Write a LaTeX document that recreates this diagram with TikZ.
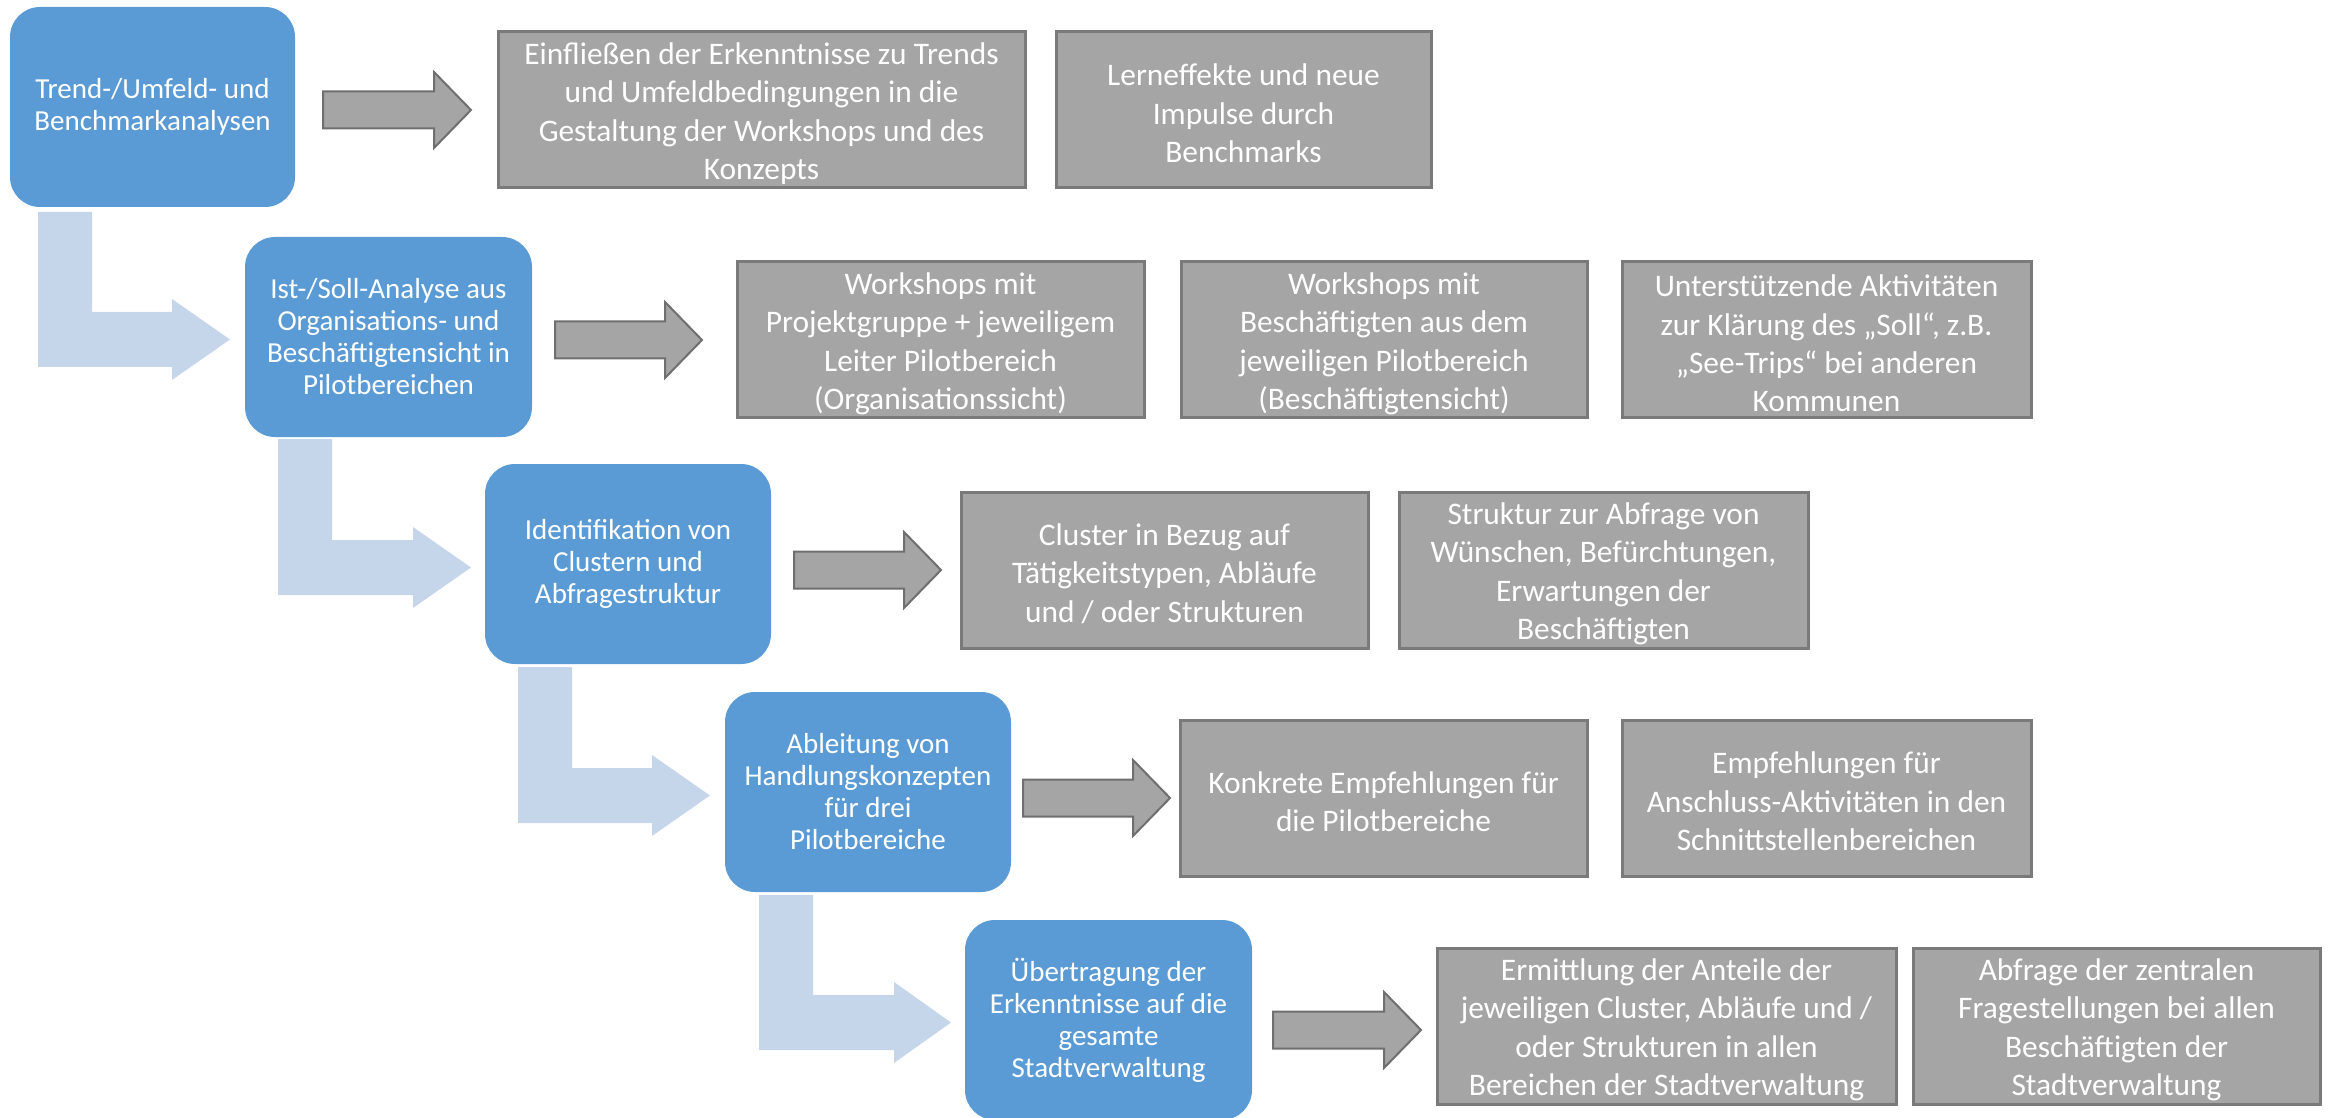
\documentclass[tikz,border=0pt]{standalone}
\usepackage{fontspec}
\setmainfont{Carlito}
\definecolor{bfill}{HTML}{5B9BD5}
\definecolor{lblue}{HTML}{C5D5EA}
\definecolor{gfill}{HTML}{A5A5A5}
\definecolor{gborder}{HTML}{7A7A7A}
\definecolor{aborder}{HTML}{6F6F6F}
\newcommand{\bfnt}{\fontsize{14.5pt}{16pt}\selectfont}
\newcommand{\gfnt}{\fontsize{15.7pt}{19.2pt}\selectfont}
\tikzset{
  bbox/.style={fill=bfill, rounded corners=15pt, text=white, align=center,
    minimum width=143pt, minimum height=100pt, inner sep=0pt, font=\bfnt},
  gbox/.style={draw=gborder, line width=1.5pt, fill=gfill,
    minimum height=78pt, inner sep=0pt},
  gtext/.style={text=white, align=center, inner sep=0pt, font=\gfnt},
  garrow/.style={fill=gfill, draw=aborder, line width=1pt},
  larrow/.style={fill=lblue},
}
% gray result box: #1 name, #2 x, #3 y, #4 width, #5 text
\newcommand{\gnode}[5]{%
  \node[gbox, minimum width=#4] (#1) at (#2,#3) {};
  \node[gtext] (#1t) at ([yshift=-1.8pt]#1.center) {#5};}
% gray block arrow: #1 = x start, #2 = x tip, #3 = y centre
\newcommand{\grarrow}[3]{%
  \draw[garrow] (#1,{#3-18.5}) -- ({#2-37},{#3-18.5}) -- ({#2-37},{#3-38}) -- (#2,#3)
    -- ({#2-37},{#3+38}) -- ({#2-37},{#3+18.5}) -- (#1,{#3+18.5}) -- cycle;}
% light blue bent arrow: #1 x, #2 top, #3 bar top, #4 head start, #5 tip
\newcommand{\bentarrow}[5]{%
  \fill[larrow] (#1,#2) -- ({#1+54},#2) -- ({#1+54},#3) -- (#4,#3) -- (#4,{#3-13})
    -- (#5,{#3+27.5}) -- (#4,{#3+68}) -- (#4,{#3+55}) -- (#1,{#3+55}) -- cycle;}
\begin{document}
\begin{tikzpicture}[x=0.5pt,y=-0.5pt]
\useasboundingbox (0,0) rectangle (2331,1118);

% light blue bent connectors
\bentarrow{38}{212}{312}{172}{230}
\bentarrow{278}{439}{540}{413}{471}
\bentarrow{518}{667}{768}{652}{710}
\bentarrow{759}{895}{995}{894}{951}

% blue step boxes
\node[bbox, minimum width=142.5pt] (B1) at (152.5,107) {Trend-/Umfeld- und\\Benchmarkanalysen};
\node[bbox, minimum width=143.5pt] (B2) at (388.5,337) {Ist-/Soll-Analyse aus\\Organisations- und\\Beschäftigtensicht in\\Pilotbereichen};
\node[bbox] (B3) at (628,564) {Identifikation von\\Clustern und\\Abfragestruktur};
\node[bbox] (B4) at (868,792) {Ableitung von\\Handlungskonzepten\\für drei\\Pilotbereiche};
\node[bbox, minimum width=143.5pt] (B5) at (1108.5,1020) {Übertragung der\\Erkenntnisse auf die\\gesamte\\Stadtverwaltung};

% gray arrows
\grarrow{323}{471}{110}
\grarrow{555}{702}{340}
\grarrow{794}{941}{570}
\grarrow{1023}{1170}{798}
\grarrow{1273}{1421}{1030}

% gray result boxes
\gnode{G1a}{761.5}{110}{263.5pt}{Einfließen der Erkenntnisse zu Trends\\und Umfeldbedingungen in die\\Gestaltung der Workshops und des\\Konzepts}
\gnode{G1b}{1243.5}{110}{187.5pt}{Lerneffekte und neue\\Impulse durch\\Benchmarks}

\gnode{G2a}{940.5}{340}{203.5pt}{Workshops mit\\Projektgruppe + jeweiligem\\Leiter Pilotbereich\\(Organisationssicht)}
\gnode{G2b}{1384}{340}{203pt}{Workshops mit\\Beschäftigten aus dem\\jeweiligen Pilotbereich\\(Beschäftigtensicht)}
\gnode{G2c}{1826.5}{340}{204.5pt}{Unterstützende Aktivitäten\\zur Klärung des „Soll“, z.B.\\„See-Trips“ bei anderen\\Kommunen}

\gnode{G3a}{1164.5}{570}{203.5pt}{Cluster in Bezug auf\\Tätigkeitstypen, Abläufe\\und / oder Strukturen}
\gnode{G3b}{1603.5}{570}{204.5pt}{Struktur zur Abfrage von\\Wünschen, Befürchtungen,\\Erwartungen der\\Beschäftigten}

\gnode{G4a}{1383.5}{798}{203.5pt}{Konkrete Empfehlungen für\\die Pilotbereiche}
\gnode{G4b}{1826.5}{798}{204.5pt}{Empfehlungen für\\Anschluss-Aktivitäten in den\\Schnittstellenbereichen}

\gnode{G5a}{1666.5}{1026}{229.5pt}{Ermittlung der Anteile der\\jeweiligen Cluster, Abläufe und /\\oder Strukturen in allen\\Bereichen der Stadtverwaltung}
\gnode{G5b}{2116.5}{1026}{203.5pt}{Abfrage der zentralen\\Fragestellungen bei allen\\Beschäftigten der\\Stadtverwaltung}
\end{tikzpicture}
\end{document}
